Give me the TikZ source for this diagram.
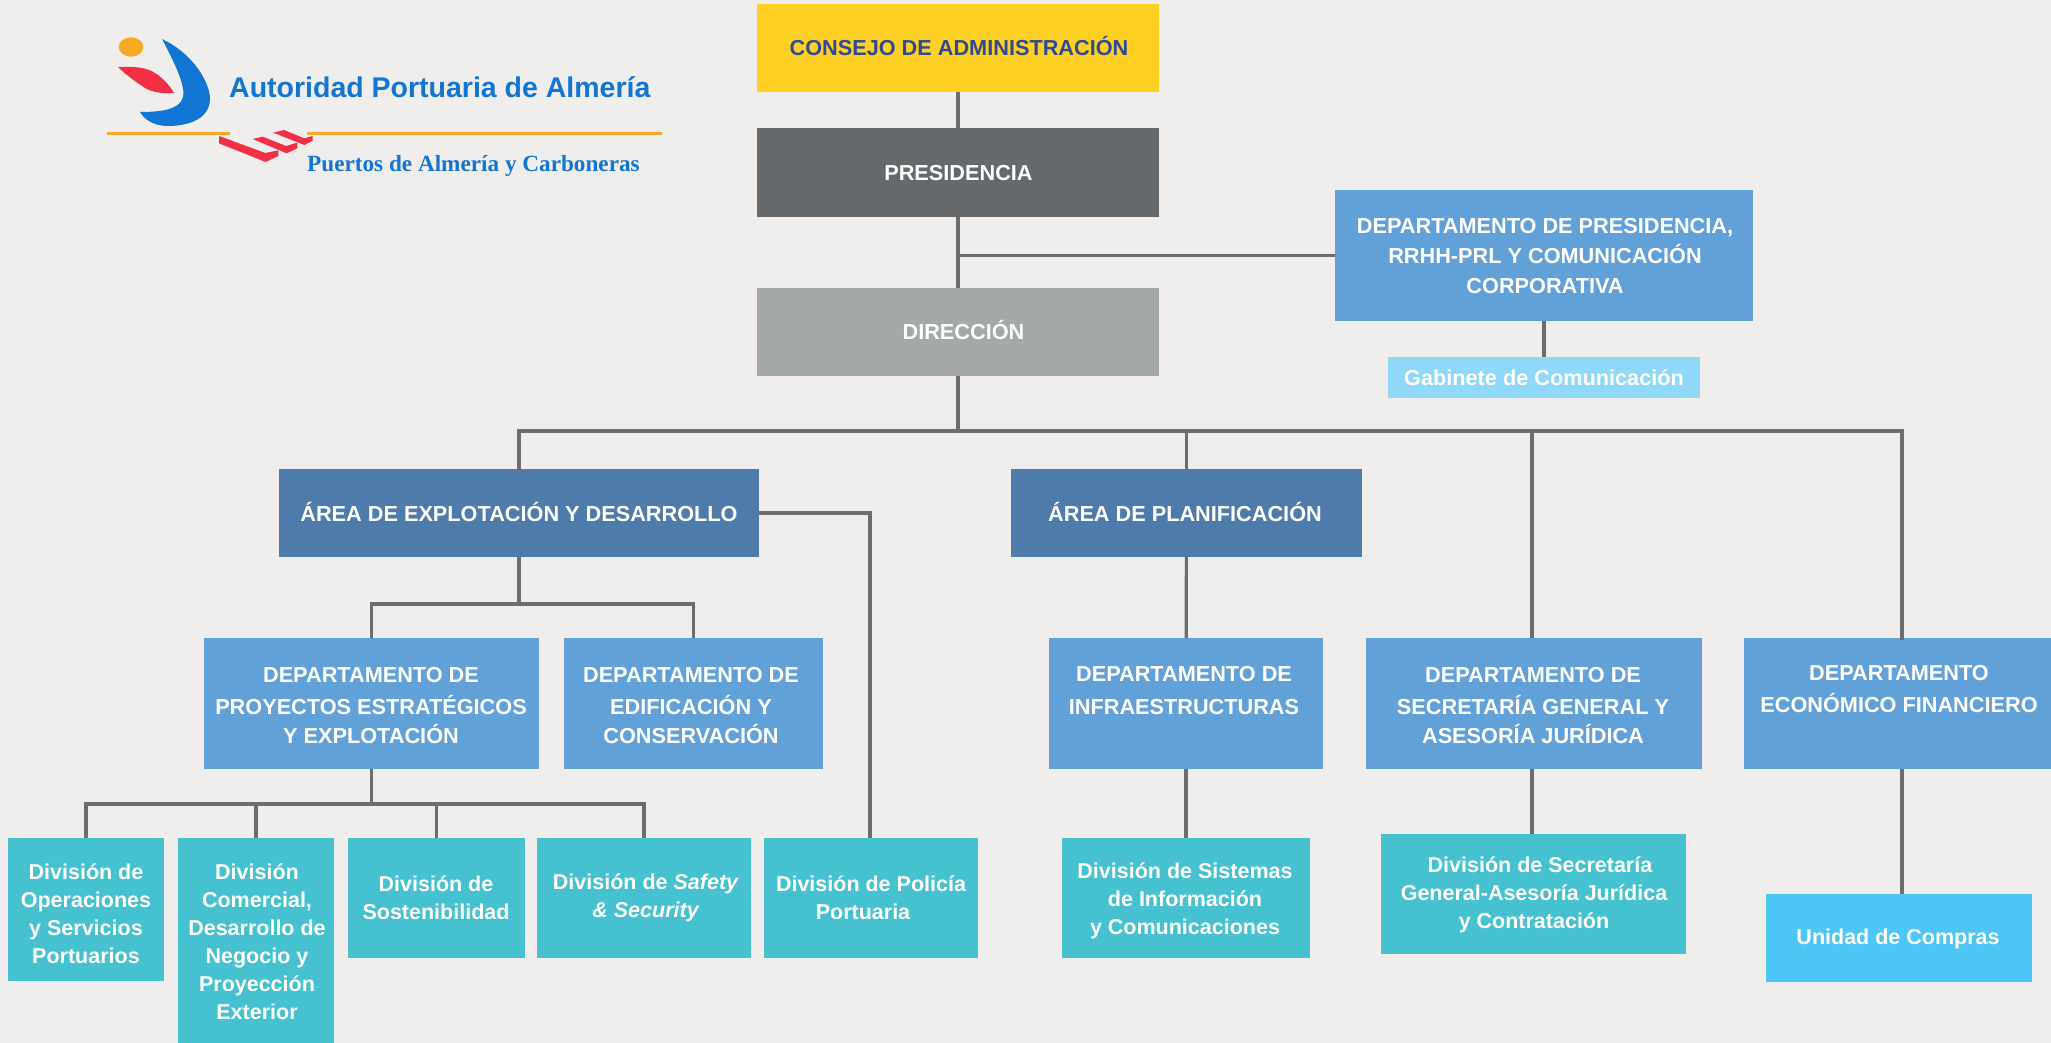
\documentclass[tikz,border=0pt]{standalone}
\usepackage{fontspec}
\setmainfont{Liberation Sans}
\newfontfamily\serifb{Liberation Serif}
\definecolor{bgc}{HTML}{EFEEEC}
\definecolor{yel}{HTML}{FDD023}
\definecolor{dgr}{HTML}{66696B}
\definecolor{lgr}{HTML}{A5A8A8}
\definecolor{dep}{HTML}{62A0D8}
\definecolor{are}{HTML}{4E7BAA}
\definecolor{tea}{HTML}{45C1CF}
\definecolor{gab}{HTML}{8FD8F8}
\definecolor{com}{HTML}{4DC5F5}
\definecolor{lin}{HTML}{6B6D6F}
\definecolor{navy}{HTML}{2F4A94}
\definecolor{logob}{HTML}{1175D3}
\definecolor{logor}{HTML}{F22F44}
\definecolor{logoo}{HTML}{F9A825}
\tikzset{
  x=1pt,y=-1pt,
  boxn/.style={inner sep=0pt,outer sep=0pt,draw=none},
  txt/.style={inner sep=0pt,align=center,text=white,font=\fontsize{21.7}{29}\selectfont\bfseries},
  dtxt/.style={inner sep=0pt,align=center,text=white,font=\fontsize{21.5}{28}\selectfont\bfseries},
  conn/.style={draw=lin,line width=3.2pt},
}
% name, x0, y0, x1, y1, colour
\newcommand{\orgbox}[6]{%
  \pgfmathsetmacro{\bw}{#4-#2}\pgfmathsetmacro{\bh}{#5-#3}%
  \pgfmathsetmacro{\bcx}{(#2+#4)/2}\pgfmathsetmacro{\bcy}{(#3+#5)/2}%
  \node[boxn,fill=#6,minimum width=\bw pt,minimum height=\bh pt] (#1) at (\bcx,\bcy) {};%
}
\begin{document}
\begin{tikzpicture}
\path[use as bounding box,fill=bgc] (0,0) rectangle (2051,1043);

% logo
\fill[logoo] (131,47) ellipse [x radius=12.3,y radius=9.7];
\fill[logob] (162,39) .. controls (190,52) and (208,78) .. (210,97)
  .. controls (211,118) and (190,126) .. (168,126)
  .. controls (153,126) and (144,119) .. (140,112)
  .. controls (160,112) and (180,110) .. (183,97)
  .. controls (186,85) and (172,58) .. (162,39) -- cycle;
\fill[logor] (118,67) .. controls (135,66) and (148,68) .. (155,73)
  .. controls (163,78) and (170,86) .. (174,93)
  .. controls (163,94) and (152,92) .. (145,88)
  .. controls (136,82) and (126,75) .. (118,67) -- cycle;
\fill[logoo] (107,132.5) rectangle (230,135.5);
\fill[logoo] (307,132) rectangle (662,135);
\begin{scope}[shift={(210,120)},x=0.3333pt,y=-0.3333pt]
\fill[logor] (27,48) -- (166,99) -- (205,91) -- (205,108) -- (167,126) -- (27,70) -- cycle;
\fill[logor] (128,57) -- (158,50) -- (228,78) -- (262,68) -- (262,85) -- (230,100) -- cycle;
\fill[logor] (190,38) -- (222,30) -- (283,55) -- (308,48) -- (308,62) -- (283,75) -- cycle;
\end{scope}
\node[inner sep=0pt,anchor=base west,text=logob,font=\fontsize{28.5}{30}\selectfont\bfseries] (logotitle) at (229,98) {Autoridad Portuaria de Almería};
\node[inner sep=0pt,anchor=base west,text=logob,font=\fontsize{23.2}{26}\selectfont\serifb\bfseries] (logosub) at (307,172) {Puertos de Almería y Carboneras};

% boxes
\orgbox{consejo}{757}{4}{1159}{92}{yel}
\orgbox{presi}{757}{128}{1159}{217}{dgr}
\orgbox{direc}{757}{288}{1159}{376}{lgr}
\orgbox{deppres}{1335}{190}{1753}{321}{dep}
\orgbox{gabinete}{1388}{357}{1700}{398}{gab}
\orgbox{areaexp}{279}{469}{759}{557}{are}
\orgbox{areapla}{1011}{469}{1362}{557}{are}
\orgbox{dproy}{204}{638}{539}{769}{dep}
\orgbox{dedif}{564}{638}{823}{769}{dep}
\orgbox{dinfra}{1049}{638}{1323}{769}{dep}
\orgbox{dsecr}{1366}{638}{1702}{769}{dep}
\orgbox{decon}{1744}{638}{2051}{769}{dep}
\orgbox{voper}{8}{838}{164}{981}{tea}
\orgbox{vcomer}{178}{838}{334}{1043}{tea}
\orgbox{vsost}{348}{838}{525}{958}{tea}
\orgbox{vsafe}{537}{838}{751}{958}{tea}
\orgbox{vpoli}{764}{838}{978}{958}{tea}
\orgbox{vsist}{1062}{838}{1310}{958}{tea}
\orgbox{vsecr}{1381}{834}{1686}{954}{tea}
\orgbox{ucomp}{1766}{894}{2032}{982}{com}

% box texts
\node[txt,text=navy] (consejo-t) at (959,46) {CONSEJO DE ADMINISTRACIÓN};
\node[txt] (presi-t) at (958.5,173) {PRESIDENCIA};
\node[txt] (direc-t) at (963.5,330) {DIRECCIÓN};
\node[txt] (deppres-t) at (1545,256.5) {DEPARTAMENTO DE PRESIDENCIA,\\[1pt]RRHH-PRL Y COMUNICACIÓN\\[1pt]CORPORATIVA};
\node[txt] (gabinete-t) at (1544,378) {Gabinete de Comunicación};
\node[txt] (areaexp-t) at (519,511.5) {ÁREA DE EXPLOTACIÓN Y DESARROLLO};
\node[txt] (areapla-t) at (1185,511.5) {ÁREA DE PLANIFICACIÓN};
\node[txt] (dproy-t) at (371,705.5) {DEPARTAMENTO DE\\[3pt]PROYECTOS ESTRATÉGICOS\\Y EXPLOTACIÓN};
\node[txt] (dedif-t) at (691,705.5) {DEPARTAMENTO DE\\[3pt]EDIFICACIÓN Y\\CONSERVACIÓN};
\node[txt] (dinfra-t) at (1184,691) {DEPARTAMENTO DE\\[4pt]INFRAESTRUCTURAS};
\node[txt] (dsecr-t) at (1533,705.5) {DEPARTAMENTO DE\\[3pt]SECRETARÍA GENERAL Y\\ASESORÍA JURÍDICA};
\node[txt] (decon-t) at (1899,689.5) {DEPARTAMENTO\\[3pt]ECONÓMICO FINANCIERO};
\node[dtxt] (voper-t) at (86,913.5) {División de\\Operaciones\\y Servicios\\Portuarios};
\node[dtxt] (vcomer-t) at (257,942) {División\\Comercial,\\Desarrollo de\\Negocio y\\Proyección\\Exterior};
\node[dtxt] (vsost-t) at (436,897.5) {División de\\Sostenibilidad};
\node[dtxt] (vsafe-t) at (646,898) {División de \textit{Safety}\\\textit{\&\ Security}};
\node[dtxt] (vpoli-t) at (871,897.5) {División de Policía\\Portuaria\rule{16pt}{0pt}};
\node[dtxt] (vsist-t) at (1185,900.5) {División de Sistemas\\de Información\\y Comunicaciones};
\node[dtxt] (vsecr-t) at (1534,895) {\ \ División de Secretaría\\General-Asesoría Jurídica\\y Contratación};
\node[dtxt] (ucomp-t) at (1898,939) {Unidad de Compras};

% connectors
\coordinate (busa) at (0,431);
\coordinate (busb) at (0,604);
\coordinate (busc) at (0,804);
\draw[conn] (consejo) -- (presi);
\draw[conn] (presi) -- (direc);
\draw[conn] (deppres.west) -- (deppres.west -| presi.south);
\draw[conn] (deppres) -- (gabinete);
\draw[conn] (direc.south) -- (direc.south |- busa);
\draw[conn,line cap=rect] ([xshift=4.5pt]decon.north) -- ([xshift=4.5pt]decon.north |- busa) -- (areaexp.north |- busa) -- (areaexp.north);
\draw[conn] (areapla.north) -- (areapla.north |- busa);
\draw[conn] ([xshift=-2pt]dsecr.north) -- ([xshift=-2pt]dsecr.north |- busa);
\draw[conn] (areapla) -- (dinfra);
\draw[conn] (dinfra) -- (vsist);
\draw[conn] ([xshift=-2pt]dsecr.south) -- ([xshift=-2pt]dsecr.south |- vsecr.north);
\draw[conn] ([xshift=4.5pt]decon.south) -- ([xshift=4.5pt]decon.south |- ucomp.north);
\draw[conn] (areaexp.south) -- (areaexp.south |- busb);
\draw[conn] (dproy.north) |- (dedif.north |- busb) -- (dedif.north);
\draw[conn] (dproy.south) -- (dproy.south |- busc);
\draw[conn] (voper.north) |- (vsafe.north |- busc) -- (vsafe.north);
\draw[conn] (vcomer.north) -- (vcomer.north |- busc);
\draw[conn] (vsost.north) -- (vsost.north |- busc);
\draw[conn] (areaexp.east) -| ([xshift=-1pt]vpoli.north);
\end{tikzpicture}
\end{document}
